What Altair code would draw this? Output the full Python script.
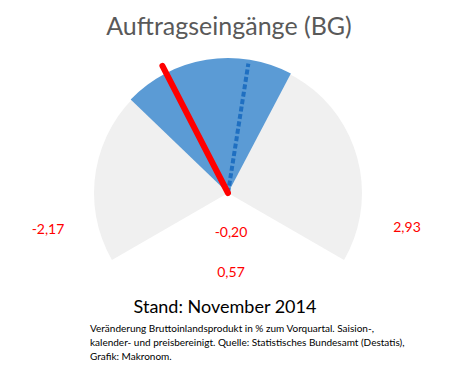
import altair as alt
import pandas as pd

# ---- data ----
gauge_min = -2.17
gauge_max = 2.93
band_low = -0.60
band_high = 0.97
current_value = -0.20
reference_value = 0.57

title_text = "Auftragseingänge (BG)"
stand_text = "Stand: November 2014"
footnote_lines = [
    "Veränderung Bruttoinlandsprodukt in % zum Vorquartal. Saision-,",
    "kalender- und preisbereinigt. Quelle: Statistisches Bundesamt (Destatis),",
    "Grafik: Makronom.",
]

FONT = "Lato"
CX, CY = 220, 185
R = 134

theta_scale = alt.Scale(domain=[gauge_min, gauge_max], range=[-2.0944, 2.0944])
angle_scale = alt.Scale(domain=[gauge_min, gauge_max], range=[240, 480])

bg_df = pd.DataFrame({"start": [gauge_min], "end": [gauge_max]})
band_df = pd.DataFrame({"start": [band_low], "end": [band_high]})

bg = alt.Chart(bg_df).mark_arc(radius=R, color="#F0F0F0").encode(
    theta=alt.Theta("start:Q", scale=theta_scale, stack=False),
    theta2="end:Q",
    x=alt.value(CX), y=alt.value(CY),
)
band = alt.Chart(band_df).mark_arc(radius=R + 1, color="#5B9BD5").encode(
    theta=alt.Theta("start:Q", scale=theta_scale, stack=False),
    theta2="end:Q",
    x=alt.value(CX), y=alt.value(CY),
)

ref_needle = alt.Chart(pd.DataFrame({"v": [reference_value]})).mark_point(
    shape="M0,0L0,-2", filled=False, color="#1F6FC1", strokeWidth=4,
    strokeDash=[5, 2.5], opacity=1, size=131 ** 2,
).encode(
    angle=alt.Angle("v:Q", scale=angle_scale),
    x=alt.value(CX), y=alt.value(CY),
)
cur_needle = alt.Chart(pd.DataFrame({"v": [current_value]})).mark_point(
    shape="M0,0L0,-2", filled=False, color="#FF0000", strokeWidth=6,
    strokeCap="round", opacity=1, size=143 ** 2,
).encode(
    angle=alt.Angle("v:Q", scale=angle_scale),
    x=alt.value(CX), y=alt.value(CY),
)

def num_label(v, x, y):
    return alt.Chart(pd.DataFrame({"v": [v]})).transform_calculate(
        lab="replace(replace(format(datum.v, '.2f'), '.', ','), '\u2212', '-')"
    ).mark_text(x=x, y=y, font=FONT, fontSize=14, color="#FF0000",
                align="center", baseline="middle").encode(text="lab:N")

lab_min = num_label(gauge_min, 40, 222)
lab_max = num_label(gauge_max, 399, 220)
lab_cur = num_label(current_value, 223, 225)
lab_ref = num_label(reference_value, 223, 265)

title = alt.Chart(pd.DataFrame({"t": [title_text]})).mark_text(
    x=221, y=27, font=FONT, fontSize=25, color="#595959", align="center",
    baseline="alphabetic").encode(text="t:N")
stand = alt.Chart(pd.DataFrame({"t": [stand_text]})).mark_text(
    x=217, y=305, font=FONT, fontSize=18, color="#000000", align="center",
    baseline="alphabetic").encode(text="t:N")
foot = alt.Chart(pd.DataFrame({"t": [footnote_lines]})).mark_text(
    x=82, y=324, font=FONT, fontSize=10, color="#000000", align="left",
    baseline="alphabetic", lineHeight=14).encode(text="t")

chart = alt.layer(
    bg, band, ref_needle, cur_needle, lab_min, lab_max, lab_cur, lab_ref,
    title, stand, foot,
).properties(
    width=451, height=356, padding=0, autosize=alt.AutoSizeParams(type="none")
).configure_view(stroke="transparent")

chart.save("out.html", embed_options={"renderer": "svg", "actions": False})
